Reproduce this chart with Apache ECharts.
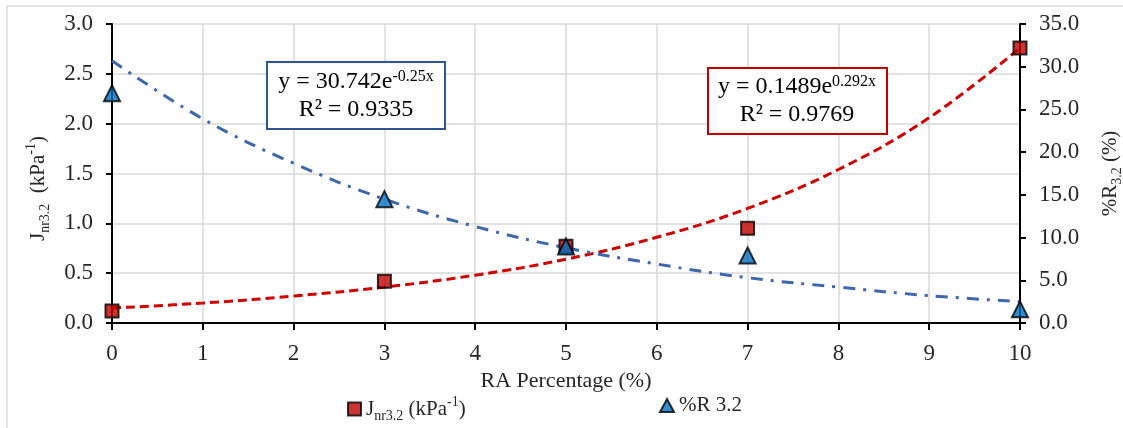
<!DOCTYPE html>
<html>
<head>
<meta charset="utf-8">
<script src="https://cdn.jsdelivr.net/npm/echarts@6/dist/echarts.min.js"></script>
<style>
  html, body { margin: 0; padding: 0; background: #fff; }
  #chartBox { width: 1123px; height: 428px; }
</style>
</head>
<body>
<div id="chartBox"></div>
<script>
// RA percentage (x) for the measured points
const raPercent = [0, 3, 5, 7, 10];
// Jnr3.2 (kPa-1), left axis
const jnrValues = [0.12, 0.42, 0.77, 0.95, 2.76];
// %R3.2 (%), right axis
const recoveryValues = [26.9, 14.5, 8.95, 7.9, 1.6];

// trendlines at every integer x
const trendX = [0, 1, 2, 3, 4, 5, 6, 7, 8, 9, 10];
const jnrTrend = [0.15, 0.20, 0.27, 0.36, 0.48, 0.64, 0.86, 1.15, 1.54, 2.06, 2.76];
const recoveryTrend = [30.7, 23.9, 18.7, 14.5, 11.3, 8.8, 6.9, 5.3, 4.2, 3.2, 2.5];

const leftTicks = [0, 3, 0.5];
const rightTicks = [0, 35, 5];

const fontName = "'Liberation Serif', 'Times New Roman', serif";

function pairUp(xs, ys) {
  let out = [];
  for (let i = 0; i < xs.length; i++) {
    out.push([xs[i], ys[i]]);
  }
  return out;
}

let myChart = echarts.init(document.getElementById("chartBox"), null, { renderer: "canvas" });

let subRich = {
  n: { fontFamily: fontName, fontSize: 21, color: "#262626", lineHeight: 28, verticalAlign: "middle" },
  sub: { fontFamily: fontName, fontSize: 14, color: "#262626", verticalAlign: "bottom", lineHeight: 14 },
  sup: { fontFamily: fontName, fontSize: 14, color: "#262626", verticalAlign: "top", lineHeight: 14 },
};

let boxRich = {
  n: { fontFamily: fontName, fontSize: 24, color: "#262626", lineHeight: 28 },
  sup: { fontFamily: fontName, fontSize: 16, color: "#262626", verticalAlign: "top", lineHeight: 16, padding: [1, 0, 0, 0] },
};

let labelStyle = { fontFamily: fontName, fontSize: 23, color: "#262626" };

myChart.setOption({
  animation: false,
  backgroundColor: "#fff",
  grid: { left: 112, right: 103, top: 24, bottom: 105, containLabel: false, outerBoundsMode: "none" },
  legend: [
    {
      data: ["Jnr"],
      left: 342,
      top: 390,
      itemWidth: 13,
      itemHeight: 13,
      textStyle: { rich: subRich },
      formatter: function () {
        return "{n|J}{sub|nr3.2}{n| (kPa}{sup|-1}{n|)}";
      },
    },
    {
      data: ["%R 3.2"],
      left: 654,
      top: 390,
      itemWidth: 14,
      itemHeight: 13,
      textStyle: { rich: subRich },
      formatter: function () {
        return "{n|%R 3.2}";
      },
    },
  ],
  xAxis: {
    type: "value",
    min: 0,
    max: 10,
    interval: 1,
    name: "RA Percentage (%)",
    nameLocation: "middle",
    nameGap: 44,
    nameTextStyle: { fontFamily: fontName, fontSize: 22, color: "#262626" },
    axisLine: { onZero: false, lineStyle: { color: "#000", width: 2 } },
    axisTick: { show: true, length: 7, lineStyle: { color: "#000", width: 2 } },
    axisLabel: Object.assign({ margin: 19 }, labelStyle),
    splitLine: { show: true, lineStyle: { color: "#D9D9D9", width: 1.5 } },
  },
  yAxis: [
    {
      type: "value",
      min: leftTicks[0],
      max: leftTicks[1],
      interval: leftTicks[2],
      position: "left",
      name: "{n|J}{sub|nr3.2}{n|  (kPa}{sup|-1}{n|)}",
      nameLocation: "middle",
      nameRotate: 90,
      nameGap: 60,
      nameTextStyle: { rich: subRich, padding: [0, 30, 0, 0] },
      axisLine: { show: true, lineStyle: { color: "#000", width: 2 } },
      axisTick: { show: true, length: 6, lineStyle: { color: "#000", width: 2 } },
      axisLabel: Object.assign({
        margin: 19,
        formatter: function (v) { return v.toFixed(1); },
      }, labelStyle),
      splitLine: { show: true, lineStyle: { color: "#D9D9D9", width: 1.5 } },
    },
    {
      type: "value",
      min: rightTicks[0],
      max: rightTicks[1],
      interval: rightTicks[2],
      position: "right",
      name: "{n|%R}{sub|3.2}{n| (%)}",
      nameLocation: "middle",
      nameRotate: 90,
      nameGap: 76,
      nameTextStyle: { rich: subRich },
      axisLine: { show: true, lineStyle: { color: "#000", width: 2 } },
      axisTick: { show: true, length: 6, lineStyle: { color: "#000", width: 2 } },
      axisLabel: Object.assign({
        margin: 19,
        formatter: function (v) { return v.toFixed(1); },
      }, labelStyle),
      splitLine: { show: false },
    },
  ],
  graphic: [
    // outer chart border
    {
      type: "rect",
      shape: { x: 7, y: 6, width: 1130, height: 440 },
      style: { fill: "none", stroke: "#D9D9D9", lineWidth: 1.5 },
      silent: true,
    },
    // blue trendline label
    {
      type: "rect",
      shape: { x: 267, y: 62, width: 178, height: 67 },
      style: { fill: "#fff", stroke: "#2F5597", lineWidth: 2 },
      z: 10,
    },
    {
      type: "text",
      x: 356,
      y: 96,
      z: 11,
      style: {
        text: "{n|y = 30.742e}{sup|-0.25x}\n{n|R² = 0.9335}",
        rich: boxRich,
        align: "center",
        verticalAlign: "middle",
      },
    },
    // red trendline label
    {
      type: "rect",
      shape: { x: 708, y: 68, width: 179, height: 66 },
      style: { fill: "#fff", stroke: "#C00000", lineWidth: 2 },
      z: 10,
    },
    {
      type: "text",
      x: 797,
      y: 101,
      z: 11,
      style: {
        text: "{n|y = 0.1489e}{sup|0.292x}\n{n|R² = 0.9769}",
        rich: boxRich,
        align: "center",
        verticalAlign: "middle",
      },
    },
  ],
  series: [
    {
      name: "Jnr trend",
      type: "line",
      yAxisIndex: 0,
      data: pairUp(trendX, jnrTrend),
      smooth: 0.4,
      showSymbol: false,
      symbol: "none",
      lineStyle: { color: "#D00000", width: 3, type: [9, 5] },
      z: 2,
    },
    {
      name: "%R trend",
      type: "line",
      yAxisIndex: 1,
      data: pairUp(trendX, recoveryTrend),
      smooth: 0.4,
      showSymbol: false,
      symbol: "none",
      lineStyle: { color: "#3D67AF", width: 3, type: [12, 8, 3, 8] },
      z: 2,
    },
    {
      name: "Jnr",
      type: "scatter",
      yAxisIndex: 0,
      data: pairUp(raPercent, jnrValues),
      symbol: "rect",
      symbolSize: 13,
      itemStyle: { color: "#C00000", borderColor: "#000", borderWidth: 2 },
      z: 3,
    },
    {
      name: "%R 3.2",
      type: "scatter",
      yAxisIndex: 1,
      data: pairUp(raPercent, recoveryValues),
      symbol: "triangle",
      symbolSize: [16, 16],
      itemStyle: { color: "#0070C0", borderColor: "#000", borderWidth: 2 },
      z: 4,
    },
  ],
});
</script>
</body>
</html>
